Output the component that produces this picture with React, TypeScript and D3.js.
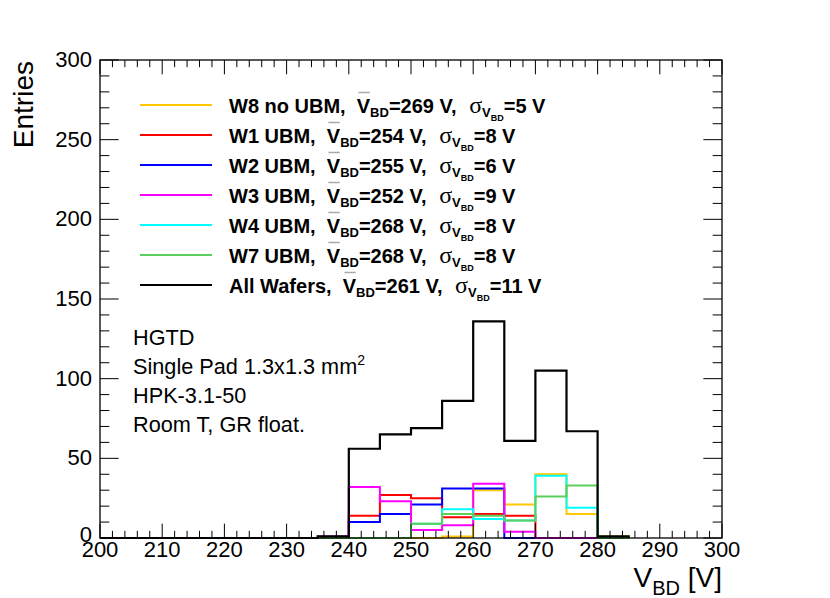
import { useEffect, useRef } from 'react';
import * as d3 from 'd3';

// bin low edges (5 V wide bins)
const waferBins = [235, 240, 245, 250, 255, 260, 265, 270, 275, 280];
const allBins = [200, 205, 210, 215, 220, 225, 230, 235, 240, 245, 250, 255, 260, 265, 270, 275, 280];
const binWidth = 5;

const w8 = [0, 0, 0, 0, 1, 30, 21, 40, 15, 1];
const w1 = [0, 14, 27, 25, 13, 15, 14, 0, 0, 0];
const w2 = [0, 10, 15, 21, 31, 31, 0, 0, 0, 0];
const w3 = [1, 32, 23, 5, 8, 34, 4, 0, 0, 0];
const w4 = [0, 0, 0, 9, 18, 12, 11, 39, 19, 0];
const w7 = [0, 0, 0, 9, 15, 14, 11, 26, 33, 0];
const allWafers = [0, 0, 0, 0, 0, 0, 0, 1, 56, 65, 69, 86, 136, 61, 105, 67, 1];

const seriesNames = ['W8 no UBM', 'W1 UBM', 'W2 UBM', 'W3 UBM', 'W4 UBM', 'W7 UBM', 'All Wafers'];
const seriesMeans = [269, 254, 255, 252, 268, 268, 261];
const seriesSigmas = [5, 8, 6, 9, 8, 8, 11];
const seriesColors = ['#ffc800', '#ff0000', '#0000ff', '#ff00ff', '#00ffff', '#5ccf5c', '#000000'];

const xTicks = [200, 210, 220, 230, 240, 250, 260, 270, 280, 290, 300];
const yTicks = [0, 50, 100, 150, 200, 250, 300];

const infoLines = ['HGTD', 'Single Pad 1.3x1.3 mm', 'HPK-3.1-50', 'Room T, GR float.'];

const W = 830;
const H = 598;
const FONT = '"Liberation Sans", Arial, Helvetica, sans-serif';

export default function App() {
  const svgRef = useRef<SVGSVGElement>(null);

  useEffect(() => {
    if (!svgRef.current) return;
    const svg = d3.select(svgRef.current);
    svg.selectAll('*').remove();

    const left = 100, right = 722, top = 60, bottom = 538;
    const x = d3.scaleLinear().domain([200, 300]).range([left, right]);
    const y = d3.scaleLinear().domain([0, 300]).range([bottom, top]);

    const g = svg.append('g');

    // histograms
    const step = d3.line<[number, number]>()
      .x(d => x(d[0]))
      .y(d => y(d[1]))
      .curve(d3.curveStepAfter);

    const histPoints = (bins: number[], vals: number[]) => {
      const pts: [number, number][] = [[bins[0], 0]];
      bins.forEach((b, i) => pts.push([b, vals[i]]));
      const last = bins[bins.length - 1] + binWidth;
      pts.push([last, vals[vals.length - 1]]);
      pts.push([last, 0]);
      return pts;
    };

    const waferSeries = [w8, w1, w2, w3, w4, w7];
    waferSeries.forEach((vals, i) => {
      g.append('path')
        .attr('d', step(histPoints(waferBins, vals)))
        .attr('fill', 'none')
        .attr('stroke', seriesColors[i])
        .attr('stroke-width', 2);
    });
    g.append('path')
      .attr('d', step(histPoints(allBins, allWafers)))
      .attr('fill', 'none')
      .attr('stroke', '#000')
      .attr('stroke-width', 2.2);

    // frame
    g.append('rect')
      .attr('x', left).attr('y', top)
      .attr('width', right - left).attr('height', bottom - top)
      .attr('fill', 'none').attr('stroke', '#000').attr('stroke-width', 1.3);

    // x ticks (bottom + top)
    const xMajorLen = 0.03 * (bottom - top);
    d3.range(200, 300.001, 2).forEach(v => {
      const major = v % 10 === 0;
      const len = major ? xMajorLen : xMajorLen / 2;
      g.append('line')
        .attr('x1', x(v)).attr('x2', x(v))
        .attr('y1', bottom).attr('y2', bottom - len)
        .attr('stroke', '#000').attr('stroke-width', 1);
      g.append('line')
        .attr('x1', x(v)).attr('x2', x(v))
        .attr('y1', top).attr('y2', top + len)
        .attr('stroke', '#000').attr('stroke-width', 1);
    });

    // y ticks (left + right)
    const yMajorLen = 0.03 * (right - left);
    d3.range(0, 300.001, 10).forEach(v => {
      const major = v % 50 === 0;
      const len = major ? yMajorLen : yMajorLen / 2;
      g.append('line')
        .attr('x1', left).attr('x2', left + len)
        .attr('y1', y(v)).attr('y2', y(v))
        .attr('stroke', '#000').attr('stroke-width', 1);
      g.append('line')
        .attr('x1', right).attr('x2', right - len)
        .attr('y1', y(v)).attr('y2', y(v))
        .attr('stroke', '#000').attr('stroke-width', 1);
    });

    // tick labels
    g.selectAll('.xl').data(xTicks).enter().append('text')
      .attr('x', d => x(d)).attr('y', 557)
      .attr('text-anchor', 'middle')
      .attr('font-family', FONT).attr('font-size', 22)
      .text(d => d);

    g.selectAll('.yl').data(yTicks).enter().append('text')
      .attr('x', 92).attr('y', d => y(d) + 7 - (d === 0 ? 3 : 0))
      .attr('text-anchor', 'end')
      .attr('font-family', FONT).attr('font-size', 22)
      .text(d => d);

    // axis titles
    g.append('text')
      .attr('transform', 'translate(33,61) rotate(-90)')
      .attr('text-anchor', 'end')
      .attr('font-family', FONT).attr('font-size', 28)
      .text('Entries');

    const xt = g.append('text')
      .attr('x', 722).attr('y', 587)
      .attr('text-anchor', 'end')
      .attr('font-family', FONT).attr('font-size', 28)
      .style('white-space', 'pre');
    xt.append('tspan').text('V');
    xt.append('tspan').attr('font-size', 20).attr('dy', 8).text('BD');
    xt.append('tspan').attr('dy', -8).text(' [V]');

    // info text
    infoLines.forEach((line, i) => {
      const t = g.append('text')
        .attr('x', 133).attr('y', 345 + i * 29)
        .attr('font-family', FONT).attr('font-size', 21.7)
        .text(line);
      if (i === 1) {
        t.append('tspan').attr('font-size', 14).attr('dy', -9).text('2');
      }
    });

    // legend
    const legX = 229;
    seriesNames.forEach((name, i) => {
      const by = 113 + i * 30;
      g.append('line')
        .attr('x1', 140).attr('x2', 212)
        .attr('y1', by - 8).attr('y2', by - 8)
        .attr('stroke', seriesColors[i]).attr('stroke-width', 2);

      const t = g.append('text')
        .attr('x', legX).attr('y', by)
        .attr('font-family', FONT).attr('font-size', 20)
        .attr('font-weight', 'bold')
        .style('white-space', 'pre');
      t.append('tspan').text(`${name},  `);
      const vMean = t.append('tspan').text('V');

      // overline on the mean V (measured before the rest is added)
      const bb = (t.node() as SVGGraphicsElement).getBBox();
      const vW = (vMean.node() as SVGTextContentElement).getComputedTextLength();
      const xEnd = bb.x + bb.width;
      g.append('line')
        .attr('x1', xEnd - vW + 1).attr('x2', xEnd - 1)
        .attr('y1', by - 20.5).attr('y2', by - 20.5)
        .attr('stroke', '#aaa').attr('stroke-width', 1.5);

      t.append('tspan').attr('font-size', 13).attr('dy', 4).text('BD');
      t.append('tspan').attr('dy', -4).text(`=${seriesMeans[i]} V, `);
      t.append('tspan').attr('font-weight', 'normal').attr('dx', 7)
        .attr('font-family', '"Liberation Serif", "DejaVu Serif", serif')
        .attr('font-size', 24).text('σ');
      t.append('tspan').attr('font-size', 13).attr('dy', 4).text('V');
      t.append('tspan').attr('font-size', 9).attr('dy', 4).text('BD');
      t.append('tspan').attr('dy', -8).text(`=${seriesSigmas[i]} V`);
    });
  }, []);

  return (
    <svg
      ref={svgRef}
      width={W}
      height={H}
      style={{ position: 'absolute', left: 0, top: 0, background: '#fff' }}
    />
  );
}
